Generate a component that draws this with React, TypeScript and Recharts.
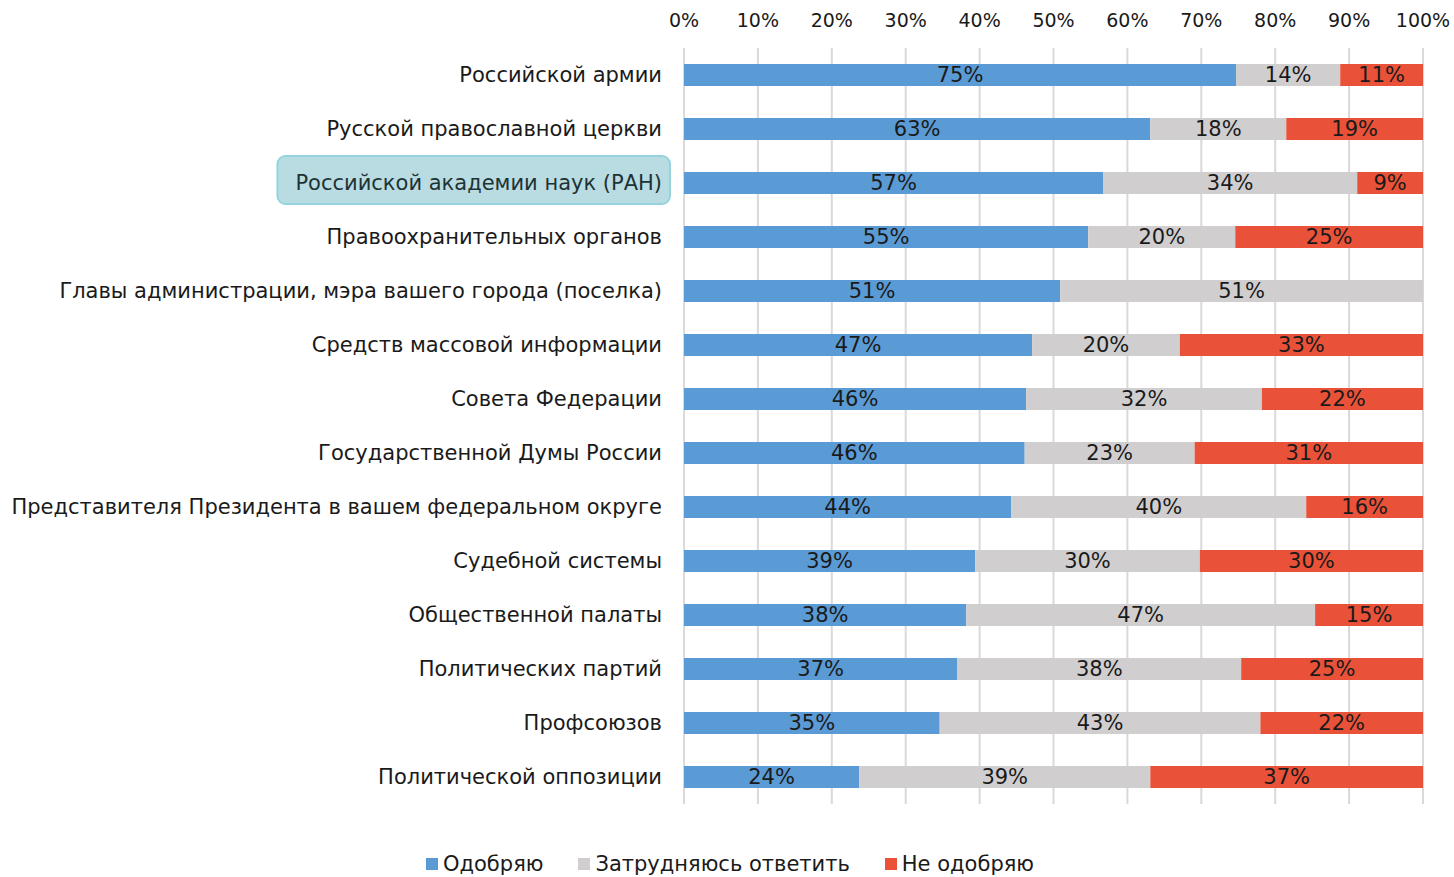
import React from 'react';
import { BarChart, Bar, XAxis, YAxis, CartesianGrid, Legend, LabelList } from 'recharts';

const FONT = '"DejaVu Sans", sans-serif';

const categories = [
  'Российской армии',
  'Русской православной церкви',
  'Российской академии наук (РАН)',
  'Правоохранительных органов',
  'Главы администрации, мэра вашего города (поселка)',
  'Средств массовой информации',
  'Совета Федерации',
  'Государственной Думы России',
  'Представителя Президента в вашем федеральном округе',
  'Судебной системы',
  'Общественной палаты',
  'Политических партий',
  'Профсоюзов',
  'Политической оппозиции',
];

const approve = [74.7, 63.1, 56.7, 54.7, 50.9, 47.1, 46.3, 46.1, 44.3, 39.4, 38.2, 37.0, 34.6, 23.7];
const undecided = [14.1, 18.4, 34.4, 19.9, 51.0, 20.0, 31.9, 23.0, 39.9, 30.4, 47.2, 38.4, 43.4, 39.4];
const disapprove = [11.2, 18.6, 8.9, 25.4, 0, 32.9, 21.8, 30.9, 15.8, 30.2, 14.6, 24.6, 22.0, 36.9];

const xTicks = [0, 10, 20, 30, 40, 50, 60, 70, 80, 90, 100];
const highlighted = 'Российской академии наук (РАН)';

const series = [
  { key: 'approve', name: 'Одобряю', color: '#5b9bd5' },
  { key: 'undecided', name: 'Затрудняюсь ответить', color: '#d0cecf' },
  { key: 'disapprove', name: 'Не одобряю', color: '#e95238' },
];

const data = categories.map((name, i) => ({
  name,
  approve: approve[i],
  undecided: undecided[i],
  disapprove: disapprove[i],
}));

let ctx: CanvasRenderingContext2D | null = null;
const measure = (text: string, size: number) => {
  if (!ctx) ctx = document.createElement('canvas').getContext('2d');
  if (!ctx) return text.length * size * 0.6;
  ctx.font = `${size}px ${FONT}`;
  return ctx.measureText(text).width;
};

const CategoryTick = (props: any) => {
  const { x, y, payload } = props;
  const label = payload.value as string;
  const tx = x - 14;
  if (label === highlighted) {
    const w = measure(label, 21);
    return (
      <g>
        <rect x={tx - w - 18} y={y - 27} width={w + 26} height={48} rx={8} ry={8}
          fill="#b8dce2" stroke="#95d4df" strokeWidth={2} />
        <text x={tx} y={y} textAnchor="end" dominantBaseline="central"
          fontSize={21} fontFamily={FONT} fill="#1e3336">{label}</text>
      </g>
    );
  }
  return (
    <text x={tx} y={y} textAnchor="end" dominantBaseline="central"
      fontSize={21} fontFamily={FONT} fill="#1a1a1a">{label}</text>
  );
};

const PercentTick = (props: any) => {
  const { x, payload } = props;
  return (
    <text x={x} y={20} textAnchor="middle" dominantBaseline="central"
      fontSize={19} fontFamily={FONT} fill="#1a1a1a">{payload.value}%</text>
  );
};

const renderValue = (v: any) => (v > 0 ? `${Math.round(v)}%` : '');

const LegendContent = () => (
  <div style={{ display: 'flex', justifyContent: 'center', alignItems: 'center', height: 24, marginTop: 48, paddingLeft: 6 }}>
    {series.map((s, i) => (
      <div key={s.key} style={{ display: 'flex', alignItems: 'center', marginRight: i < series.length - 1 ? 35 : 0 }}>
        <span style={{ width: 12, height: 12, background: s.color, display: 'inline-block', marginRight: 5 }} />
        <span style={{ fontFamily: FONT, fontSize: 21, color: '#1a1a1a' }}>{s.name}</span>
      </div>
    ))}
  </div>
);

export default function App() {
  return (
    <div style={{ position: 'absolute', left: 0, top: 0, width: 1454, height: 877, background: '#fff' }}>
      <BarChart
        width={1454}
        height={877}
        data={data}
        layout="vertical"
        margin={{ top: 0, right: 31, left: 0, bottom: 0 }}
        barSize={22}
      >
        <CartesianGrid horizontal={false} stroke="#d9d9d9" strokeWidth={2} />
        <XAxis
          type="number"
          orientation="top"
          domain={[0, 100]}
          ticks={xTicks}
          allowDataOverflow
          height={48}
          axisLine={false}
          tickLine={false}
          tick={<PercentTick />}
          interval={0}
        />
        <YAxis
          type="category"
          dataKey="name"
          width={684}
          axisLine={false}
          tickLine={false}
          tick={<CategoryTick />}
          interval={0}
        />
        <Legend verticalAlign="bottom" height={73} wrapperStyle={{ left: 0, width: 1454 }} content={<LegendContent />} />
        {series.map((s) => (
          <Bar key={s.key} dataKey={s.key} name={s.name} stackId="a" fill={s.color} isAnimationActive={false}>
            <LabelList dataKey={s.key} position="center" formatter={renderValue}
              style={{ fontFamily: FONT, fontSize: 21, fill: '#1a1a1a' }} />
          </Bar>
        ))}
      </BarChart>
    </div>
  );
}
